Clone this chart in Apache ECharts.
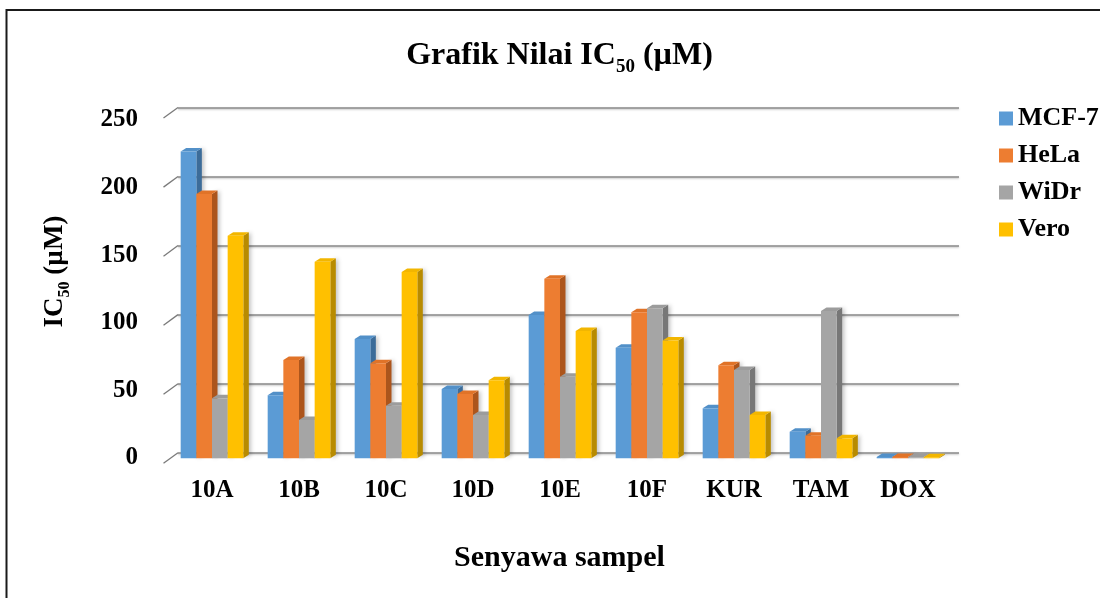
<!DOCTYPE html>
<html>
<head>
<meta charset="utf-8">
<script src="https://cdn.jsdelivr.net/npm/echarts@6/dist/echarts.min.js"></script>
<style>
  html, body { margin: 0; padding: 0; background: #fff; }
  #chart { width: 1100px; height: 598px; }
</style>
</head>
<body>
<div id="chart"></div>
<script>
// IC50 values (µM) per compound and cell line
const categories = ['10A', '10B', '10C', '10D', '10E', '10F', 'KUR', 'TAM', 'DOX'];
const seriesNames = ['MCF-7', 'HeLa', 'WiDr', 'Vero'];
const mcf7 = [224, 46, 87, 50.6, 104.6, 80.7, 36.5, 19.4, 1.0];
const hela = [193, 71.7, 69.3, 47, 131, 106.6, 68, 16.5, 1.0];
const widr = [43.8, 28, 38.4, 31.6, 59.6, 109.5, 64.5, 107.5, 0.8];
const vero = [162.5, 143.5, 136, 57, 93, 86, 31.6, 14.6, 0.8];
const yTicks = [0, 50, 100, 150, 200, 250];

const FONT = '"Liberation Serif", "Times New Roman", serif';
const frontColors = ['#5B9BD5', '#ED7D31', '#A5A5A5', '#FFC000'];
const sideColors  = ['#3C6C99', '#AC551C', '#777777', '#B88B00'];
const capColors   = ['#5290C8', '#E07328', '#9C9C9C', '#F2B600'];
const DX = 5.5, DY = -3.5;       // depth offset of the 3D columns
const GROUP = 0.72;              // share of the category band used by a group

function columnRenderer(s) {
  return function (params, api) {
    const i = api.value(0), v = api.value(1);
    const c = api.coord([i, v]);
    const b = api.coord([i, 0]);
    const band = api.size([1, 0])[0];
    const gw = band * GROUP, bw = gw / 4;
    const x0 = c[0] - gw / 2 + s * bw, x1 = x0 + bw;
    const yT = c[1], yB = b[1];
    return {
      type: 'group',
      children: [
        { type: 'polygon', shape: { points: [[x1, yT], [x1 + DX, yT + DY], [x1 + DX, yB + DY], [x1, yB]] },
          style: { fill: sideColors[s], shadowColor: 'rgba(0,0,0,0.25)', shadowBlur: 4, shadowOffsetX: 2 } },
        { type: 'polygon', shape: { points: [[x0, yT], [x1, yT], [x1 + DX, yT + DY], [x0 + DX, yT + DY]] },
          style: { fill: capColors[s] } },
        { type: 'rect', shape: { x: x0, y: yT, width: bw, height: Math.max(yB - yT, 0.5) },
          style: { fill: frontColors[s] } }
      ]
    };
  };
}

const valueSets = [mcf7, hela, widr, vero];
const barSeries = valueSets.map((vals, s) => ({
  type: 'custom',
  name: seriesNames[s],
  xAxisIndex: 0, yAxisIndex: 0,
  itemStyle: { color: frontColors[s] },
  renderItem: columnRenderer(s),
  encode: { x: 0, y: 1 },
  data: vals.map((v, i) => [i, v]),
  z: 3
}));

const chart = echarts.init(document.getElementById('chart'), null, { renderer: 'canvas' });
chart.setOption({
  animation: false,
  backgroundColor: '#fff',
  grid: [
    { left: 168.5, right: 148.5, top: 115.8, bottom: 139.7 },   // front plane (columns)
    { left: 178, right: 141, top: 107.5, bottom: 145.3 },       // back wall (gridlines)
    { left: 146, width: 10, top: 120, bottom: 140 }             // value labels
  ],
  xAxis: [
    { type: 'category', gridIndex: 0, data: categories,
      axisLine: { show: false }, axisTick: { show: false }, splitLine: { show: false },
      axisLabel: { fontSize: 25, fontWeight: 'bold', fontFamily: FONT, color: '#000', margin: 20 } },
    { type: 'value', gridIndex: 1, min: 0, max: 1, show: false },
    { type: 'value', gridIndex: 2, min: 0, max: 1, show: false }
  ],
  yAxis: [
    { type: 'value', gridIndex: 0, min: 0, max: 250, show: false },
    { type: 'value', gridIndex: 1, min: 0, max: 250, interval: 50,
      axisLine: { show: false }, axisTick: { show: false }, axisLabel: { show: false },
      splitLine: { show: true, lineStyle: { color: '#8a8a8a', width: 1.5,
        shadowColor: 'rgba(0,0,0,0.25)', shadowBlur: 2, shadowOffsetY: 1 } } },
    { type: 'value', gridIndex: 2, min: 0, max: 250, interval: 50,
      axisLine: { show: false }, axisTick: { show: false }, splitLine: { show: false },
      axisLabel: { fontSize: 25, fontWeight: 'bold', fontFamily: FONT, color: '#000', margin: 8 } }
  ],
  legend: {
    data: seriesNames,
    orient: 'vertical',
    left: 999, top: 105.5, padding: 0,
    itemWidth: 14, itemHeight: 14, itemGap: 11,
    icon: 'rect',
    selectedMode: false,
    textStyle: { fontSize: 26, fontWeight: 'bold', fontFamily: FONT, color: '#000', lineHeight: 26 }
  },
  series: [
    {
      // side-wall tick strokes at each gridline
      type: 'custom', xAxisIndex: 1, yAxisIndex: 1, silent: true, z: 2,
      data: yTicks.map(v => [0, v]),
      renderItem: function (params, api) {
        const p = api.coord([0, api.value(1)]);
        return { type: 'line', shape: { x1: p[0] - 14.5, y1: p[1] + 10.6, x2: p[0], y2: p[1] },
          style: { stroke: '#7a7a7a', lineWidth: 1.3 } };
      }
    }
  ].concat(barSeries),
  graphic: [
    { type: 'rect', shape: { x: 6.5, y: 10, width: 1200, height: 700 },
      style: { fill: 'none', stroke: '#1a1a1a', lineWidth: 2 }, z: 100, silent: true },
    { type: 'text', x: 559.5, y: 56, z: 100,
      style: { text: '{a|Grafik Nilai IC}{s|50}{a| (µM)}', align: 'center', verticalAlign: 'middle',
        rich: {
          a: { fontSize: 32, fontWeight: 'bold', fontFamily: FONT, fill: '#000', lineHeight: 32 },
          s: { fontSize: 19, fontWeight: 'bold', fontFamily: FONT, fill: '#000', lineHeight: 10,
               padding: [22, 0, 0, 0] }
        } } },
    { type: 'text', x: 55, y: 271.5, rotation: Math.PI / 2, z: 100,
      style: { text: '{a|IC}{s|50}{a| (µM)}', align: 'center', verticalAlign: 'middle',
        rich: {
          a: { fontSize: 27, fontWeight: 'bold', fontFamily: FONT, fill: '#000', lineHeight: 27 },
          s: { fontSize: 16, fontWeight: 'bold', fontFamily: FONT, fill: '#000', lineHeight: 8,
               padding: [19, 0, 0, 0] }
        } } },
    { type: 'text', x: 559.5, y: 558, z: 100,
      style: { text: 'Senyawa sampel', align: 'center', verticalAlign: 'middle',
        fontSize: 30, fontWeight: 'bold', fontFamily: FONT, fill: '#000' } }
  ]
});
</script>
</body>
</html>
